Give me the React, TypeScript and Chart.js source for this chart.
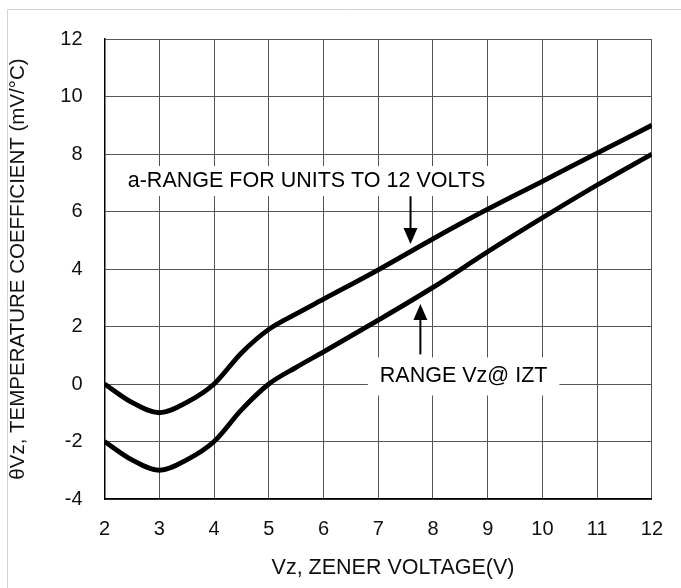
import React, { useEffect, useRef } from "react";
import { Chart, registerables } from "chart.js";

Chart.register(...registerables);

// Zener voltage (V)
const vz = [2, 2.5, 3, 3.5, 4, 4.5, 5, 5.5, 6, 7, 8, 9, 10, 11, 12];
// upper limit of temperature coefficient (mV/°C)
const upperTc = [0, -0.64, -1, -0.64, 0.0, 1.08, 1.9, 2.44, 2.95, 3.97, 5.05, 6.08, 7.05, 8.03, 9];
// lower limit of temperature coefficient (mV/°C)
const lowerTc = [-2, -2.64, -3, -2.64, -2.0, -0.9, 0.0, 0.58, 1.12, 2.22, 3.36, 4.6, 5.78, 6.92, 8];

const xTicks = [2, 3, 4, 5, 6, 7, 8, 9, 10, 11, 12];
const yTicks = [-4, -2, 0, 2, 4, 6, 8, 10, 12];

const xTitle = "Vz, ZENER VOLTAGE(V)";
const yTitle = "θVz, TEMPERATURE COEFFICIENT (mV/°C)";

// annotation labels: text, label centre (data units), arrow x, arrow tail y, arrow tip y
const labelTexts = ["a-RANGE FOR UNITS TO 12 VOLTS", "RANGE Vz@ IZT"];
const labelX = [5.69, 8.56];
const labelY = [7.06, 0.26];
const arrowX = [7.59, 7.77];
const arrowTail = [6.53, 1.03];
const arrowTip = [4.87, 2.78];

const FONT = "'Liberation Sans', Arial, Helvetica, sans-serif";

const overlayPlugin = {
  id: "overlay",
  beforeDatasetsDraw(chart: any) {
    const { ctx, scales } = chart;
    const xs = scales.x;
    const ys = scales.y;
    ctx.save();
    ctx.font = `21.5px ${FONT}`;
    ctx.textAlign = "center";
    ctx.textBaseline = "middle";
    for (let i = 0; i < labelTexts.length; i++) {
      const cx = xs.getPixelForValue(labelX[i]);
      const cy = ys.getPixelForValue(labelY[i]);
      const w = ctx.measureText(labelTexts[i]).width;
      const padX = 12;
      const padY = i === 0 ? 15 : 19;
      ctx.fillStyle = "#ffffff";
      ctx.fillRect(cx - w / 2 - padX, cy - padY, w + 2 * padX, 2 * padY);
      ctx.fillStyle = "#000000";
      ctx.fillText(labelTexts[i], cx, cy);

      const ax = xs.getPixelForValue(arrowX[i]);
      const ty = ys.getPixelForValue(arrowTail[i]);
      const py = ys.getPixelForValue(arrowTip[i]);
      const dir = py > ty ? 1 : -1;
      const headLen = 16;
      const headHalf = 7;
      ctx.strokeStyle = "#000000";
      ctx.lineWidth = 2;
      ctx.beginPath();
      ctx.moveTo(ax, ty);
      ctx.lineTo(ax, py - dir * headLen);
      ctx.stroke();
      ctx.beginPath();
      ctx.moveTo(ax, py);
      ctx.lineTo(ax - headHalf, py - dir * headLen);
      ctx.lineTo(ax + headHalf, py - dir * headLen);
      ctx.closePath();
      ctx.fill();
    }
    ctx.restore();
  },
  afterDraw(chart: any) {
    const { ctx, chartArea, width, height } = chart;
    ctx.save();
    // outer light frame
    ctx.strokeStyle = "#d4d4d4";
    ctx.lineWidth = 1;
    ctx.beginPath();
    ctx.moveTo(width, 9.5);
    ctx.lineTo(7.5, 9.5);
    ctx.lineTo(7.5, height);
    ctx.stroke();
    // axis titles
    ctx.fillStyle = "#111111";
    ctx.textAlign = "center";
    ctx.textBaseline = "middle";
    ctx.font = `21.5px ${FONT}`;
    ctx.fillText(xTitle, 393, 568);
    ctx.font = `20.5px ${FONT}`;
    ctx.translate(18, (chartArea.top + chartArea.bottom) / 2);
    ctx.rotate(-Math.PI / 2);
    ctx.fillText(yTitle, 0, 0);
    ctx.restore();
  },
};

export default function App() {
  const ref = useRef<HTMLCanvasElement>(null);
  useEffect(() => {
    document.body.style.margin = "0";
    const canvas = ref.current!;
    const chart = new Chart(canvas, {
      type: "line",
      data: {
        datasets: [
          {
            label: "upper",
            data: vz.map((x, i) => ({ x, y: upperTc[i] })),
            borderColor: "#000000",
            borderWidth: 4.8,
            pointRadius: 0,
            cubicInterpolationMode: "monotone",
            fill: false,
          },
          {
            label: "lower",
            data: vz.map((x, i) => ({ x, y: lowerTc[i] })),
            borderColor: "#000000",
            borderWidth: 4.8,
            pointRadius: 0,
            cubicInterpolationMode: "monotone",
            fill: false,
          },
        ],
      },
      options: {
        animation: false,
        responsive: false,
        maintainAspectRatio: false,
        layout: { padding: { top: 39, right: 20, left: 0, bottom: 0 } },
        plugins: {
          legend: { display: false },
          tooltip: { enabled: false },
          title: { display: false },
        },
        scales: {
          x: {
            type: "linear",
            min: 2,
            max: 12,
            afterFit: (s: any) => {
              s.height = 89;
            },
            afterBuildTicks: (s: any) => {
              s.ticks = xTicks.map((v) => ({ value: v }));
            },
            grid: { color: "#555555", lineWidth: 1, drawTicks: false },
            border: { color: "#000000", width: 1.5 },
            ticks: {
              color: "#111111",
              font: { family: FONT, size: 20 },
              padding: 18,
              maxRotation: 0,
            },
          },
          y: {
            type: "linear",
            min: -4,
            max: 12,
            afterFit: (s: any) => {
              s.width = 104.6;
            },
            afterBuildTicks: (s: any) => {
              s.ticks = yTicks.map((v) => ({ value: v }));
            },
            grid: { color: "#555555", lineWidth: 1, drawTicks: false },
            border: { color: "#000000", width: 1.5 },
            ticks: {
              color: "#111111",
              font: { family: FONT, size: 20 },
              padding: 22,
            },
          },
        },
      },
      plugins: [overlayPlugin],
    } as any);
    return () => chart.destroy();
  }, []);
  return <canvas ref={ref} width={681} height={588} style={{ display: "block" }} />;
}
